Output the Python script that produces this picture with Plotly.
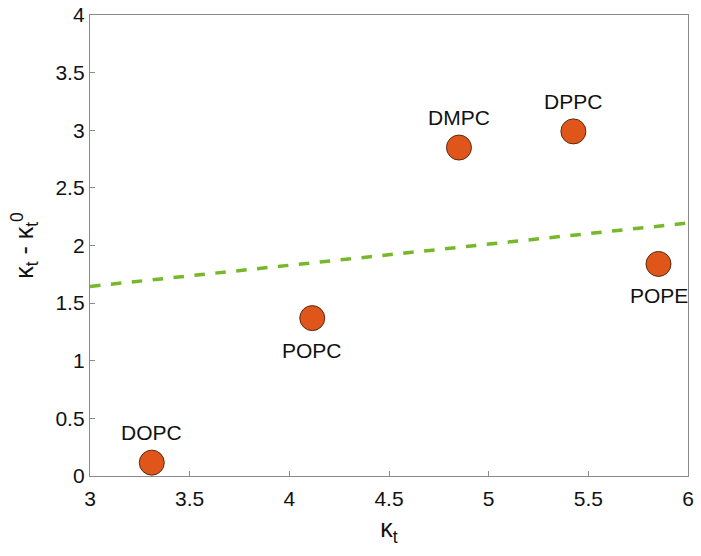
import plotly.graph_objects as go

lipids = ["DOPC", "POPC", "DMPC", "DPPC", "POPE"]
kappa_t = [3.31, 4.115, 4.851, 5.425, 5.852]
delta_kappa = [0.116, 1.37, 2.85, 2.99, 1.84]
label_side = ["above", "below", "above", "above", "below"]

fit_x = [3.0, 6.0]
fit_y = [1.645, 2.195]

FONT = "Liberation Sans, Arial"

fig = go.Figure()
fig.add_trace(go.Scatter(x=fit_x, y=fit_y, mode="lines",
                         line=dict(color="#76B82A", width=3.5, dash="dash"),
                         showlegend=False, hoverinfo="skip"))
fig.add_trace(go.Scatter(x=kappa_t, y=delta_kappa, mode="markers",
                         marker=dict(size=25, color="#E0561A",
                                     line=dict(color="#5a2a10", width=1)),
                         showlegend=False))

for name, x, y, side in zip(lipids, kappa_t, delta_kappa, label_side):
    fig.add_annotation(x=x, y=y, text=name, showarrow=False,
                       yshift=30 if side == "above" else -32,
                       font=dict(family=FONT, size=21, color="#111"))

axis_common = dict(showgrid=False, zeroline=False, showline=True, mirror=True,
                   linecolor="#8a8a8a", linewidth=1.3, ticks="inside", ticklen=5,
                   tickcolor="#8a8a8a", automargin=False,
                   tickfont=dict(family=FONT, size=21, color="#111"))

fig.update_xaxes(range=[3, 6], tickvals=[3, 3.5, 4, 4.5, 5, 5.5, 6],
                 ticktext=["3", "3.5", "4", "4.5", "5", "5.5", "6"],
                 ticklabelstandoff=4,
                 title=dict(text="κ<sub>t</sub>", standoff=10,
                            font=dict(family=FONT, size=25, color="#111")),
                 **axis_common)
fig.update_yaxes(range=[0, 4], tickvals=[0, 0.5, 1, 1.5, 2, 2.5, 3, 3.5, 4],
                 ticktext=["0", "0.5", "1", "1.5", "2", "2.5", "3", "3.5", "4"],
                 title=dict(text="κ<sub>t</sub> - κ<sub>t</sub><sup>0</sup>", standoff=14,
                            font=dict(family=FONT, size=25, color="#111")),
                 **axis_common)

fig.update_layout(width=701, height=556, plot_bgcolor="white", paper_bgcolor="white",
                  margin=dict(l=90, r=13, t=15, b=80))

fig.write_html("out.html", config={"displayModeBar": False},
               post_script="document.body.style.margin='0';")
